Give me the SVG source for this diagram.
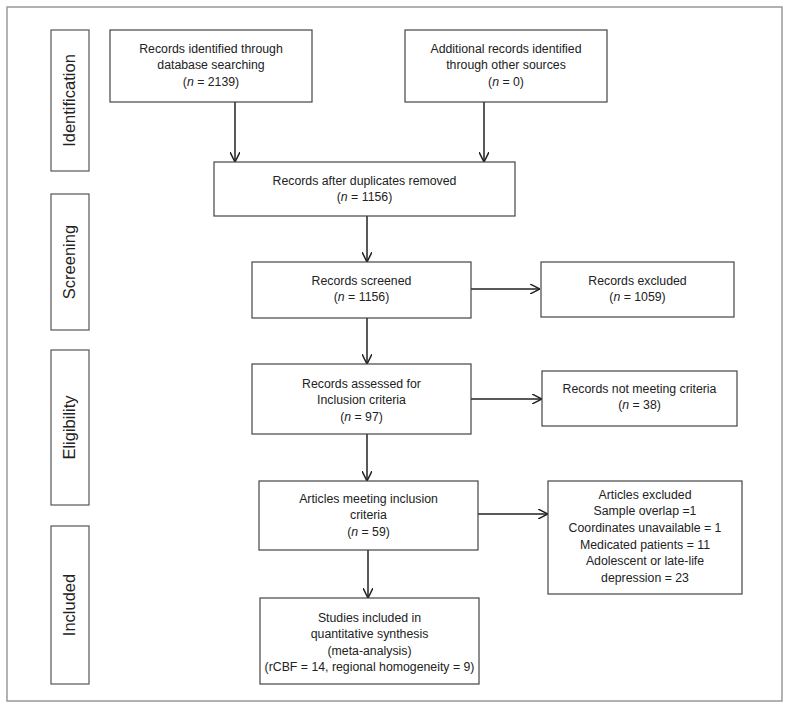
<svg xmlns="http://www.w3.org/2000/svg" width="791" height="709" viewBox="0 0 791 709">
<defs>
<marker id="ah" viewBox="0 0 10 10" refX="10" refY="5" markerWidth="10" markerHeight="10" markerUnits="userSpaceOnUse" orient="auto">
<path d="M0,0 L10,5 L0,10" fill="none" stroke="#222" stroke-width="1.5"/>
</marker>
<style>
.box{fill:#fff;stroke:#444;stroke-width:1.2}
.side{fill:#fff;stroke:#555;stroke-width:1.2}
.t{font-family:"Liberation Sans",Arial,sans-serif;font-size:12.3px;fill:#222;text-anchor:middle}
.s{font-family:"Liberation Sans",Arial,sans-serif;font-size:16.5px;fill:#222;text-anchor:middle}
.i{font-style:italic}
.c{stroke:#222;stroke-width:1.5;fill:none;marker-end:url(#ah)}
</style>
</defs>
<rect x="0" y="0" width="791" height="709" fill="#fff"/>
<rect x="7" y="7" width="775" height="694" fill="none" stroke="#999" stroke-width="1.5"/>

<g id="stage-identification">
<rect class="side" x="51" y="30" width="38" height="141"/>
<text class="s" transform="translate(75,100.5) rotate(-90)">Identification</text>
</g>
<g id="stage-screening">
<rect class="side" x="51" y="194" width="38" height="136"/>
<text class="s" transform="translate(75,262) rotate(-90)">Screening</text>
</g>
<g id="stage-eligibility">
<rect class="side" x="51" y="350" width="38" height="155"/>
<text class="s" transform="translate(75,427.5) rotate(-90)">Eligibility</text>
</g>
<g id="stage-included">
<rect class="side" x="51" y="526" width="38" height="158"/>
<text class="s" transform="translate(75,605) rotate(-90)">Included</text>
</g>

<g id="connectors">
<line class="c" x1="235" y1="102" x2="235" y2="162"/>
<line class="c" x1="484" y1="102" x2="484" y2="162"/>
<line class="c" x1="367" y1="216" x2="367" y2="262"/>
<line class="c" x1="471" y1="289" x2="540" y2="289"/>
<line class="c" x1="367" y1="318" x2="367" y2="364"/>
<line class="c" x1="471" y1="399" x2="542" y2="399"/>
<line class="c" x1="367" y1="434" x2="367" y2="481"/>
<line class="c" x1="478" y1="514" x2="548" y2="514"/>
<line class="c" x1="368" y1="550" x2="368" y2="598"/>
</g>

<g id="db-records">
<rect class="box" x="110" y="30" width="202" height="72"/>
<text class="t" x="211" y="52.5">Records identified through</text>
<text class="t" x="211" y="69">database searching</text>
<text class="t" x="211" y="85.5">(<tspan class="i">n</tspan> = 2139)</text>
</g>
<g id="other-records">
<rect class="box" x="405" y="30" width="202" height="72"/>
<text class="t" x="506" y="52.5">Additional records identified</text>
<text class="t" x="506" y="69">through other sources</text>
<text class="t" x="506" y="85.5">(<tspan class="i">n</tspan> = 0)</text>
</g>
<g id="dedup">
<rect class="box" x="214" y="162" width="301" height="54"/>
<text class="t" x="364.5" y="184.5">Records after duplicates removed</text>
<text class="t" x="364.5" y="200.5">(<tspan class="i">n</tspan> = 1156)</text>
</g>
<g id="screened">
<rect class="box" x="252" y="262" width="219" height="56"/>
<text class="t" x="361.5" y="284.5">Records screened</text>
<text class="t" x="361.5" y="301">(<tspan class="i">n</tspan> = 1156)</text>
</g>
<g id="excluded">
<rect class="box" x="541" y="262" width="193" height="55"/>
<text class="t" x="637.5" y="284.5">Records excluded</text>
<text class="t" x="637.5" y="301">(<tspan class="i">n</tspan> = 1059)</text>
</g>
<g id="assessed">
<rect class="box" x="252" y="364" width="219" height="70"/>
<text class="t" x="361.5" y="387.5">Records assessed for</text>
<text class="t" x="361.5" y="404">Inclusion criteria</text>
<text class="t" x="361.5" y="420.5">(<tspan class="i">n</tspan> = 97)</text>
</g>
<g id="not-meeting">
<rect class="box" x="542" y="371" width="195" height="55"/>
<text class="t" x="639.5" y="392.5">Records not meeting criteria</text>
<text class="t" x="639.5" y="409">(<tspan class="i">n</tspan> = 38)</text>
</g>
<g id="meeting">
<rect class="box" x="259" y="481" width="219" height="69"/>
<text class="t" x="368.5" y="502.5">Articles meeting inclusion</text>
<text class="t" x="368.5" y="519">criteria</text>
<text class="t" x="368.5" y="536">(<tspan class="i">n</tspan> = 59)</text>
</g>
<g id="articles-excluded">
<rect class="box" x="548" y="481" width="194" height="113"/>
<text class="t" x="645" y="498.5">Articles excluded</text>
<text class="t" x="645" y="515">Sample overlap =1</text>
<text class="t" x="645" y="532">Coordinates unavailable = 1</text>
<text class="t" x="645" y="548.5">Medicated patients = 11</text>
<text class="t" x="645" y="565">Adolescent or late-life</text>
<text class="t" x="645" y="582">depression = 23</text>
</g>
<g id="included">
<rect class="box" x="260" y="598" width="219" height="86"/>
<text class="t" x="369.5" y="621.5">Studies included in</text>
<text class="t" x="369.5" y="638">quantitative synthesis</text>
<text class="t" x="369.5" y="654.5">(meta-analysis)</text>
<text class="t" x="369.5" y="671">(rCBF = 14, regional homogeneity = 9)</text>
</g>
</svg>
